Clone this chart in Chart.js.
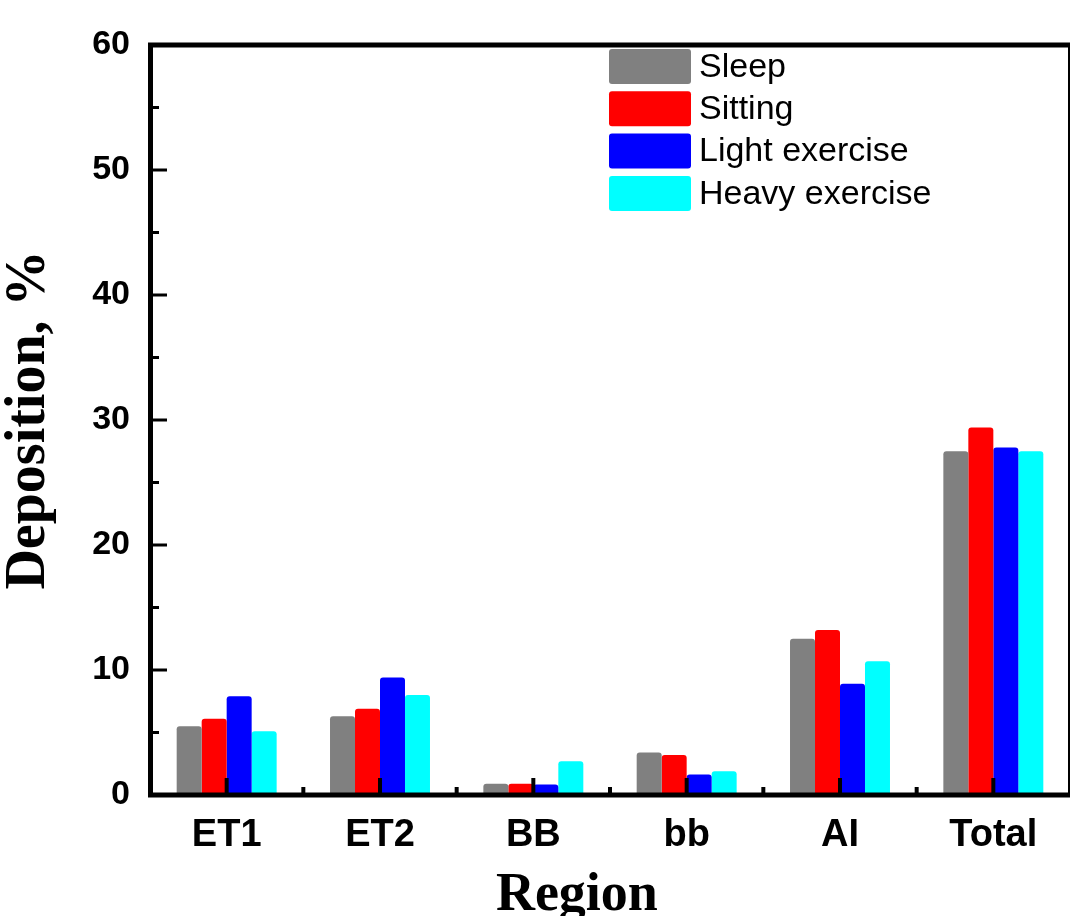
<!DOCTYPE html>
<html><head><meta charset="utf-8">
<script src="https://cdn.jsdelivr.net/npm/chart.js@4"></script>
<style>html,body{margin:0;padding:0;background:#fff;overflow:hidden}</style>
</head><body>
<canvas id="c" width="1070" height="916" style="display:block"></canvas>
<script>
const regions = ['ET1', 'ET2', 'BB', 'bb', 'AI', 'Total'];
const seriesNames = ['Sleep', 'Sitting', 'Light exercise', 'Heavy exercise'];
const sleep = [5.5, 6.3, 0.9, 3.4, 12.5, 27.5];
const sitting = [6.1, 6.9, 0.9, 3.2, 13.2, 29.4];
const lightExercise = [7.9, 9.4, 0.85, 1.65, 8.9, 27.8];
const heavyExercise = [5.1, 8.0, 2.7, 1.9, 10.7, 27.5];
const seriesColors = ['#808080', '#ff0000', '#0000ff', '#00ffff'];
const yMin = 0, yMax = 60, yStep = 10;
const xTitle = 'Region';
const yTitle = 'Deposition, %';

const seriesValues = [sleep, sitting, lightExercise, heavyExercise];

function line(ctx, x1, y1, x2, y2) {
  ctx.beginPath(); ctx.moveTo(x1, y1); ctx.lineTo(x2, y2); ctx.stroke();
}

const framePlugin = {
  id: 'frame',
  afterDatasetsDraw(chart) {
    const { ctx, chartArea: a, scales: { x, y } } = chart;
    ctx.save();
    ctx.strokeStyle = '#000';
    ctx.lineCap = 'butt';
    ctx.lineWidth = 3;
    y.ticks.forEach(t => {
      const py = y.getPixelForValue(t.value);
      line(ctx, a.left, py, a.left + 17, py);
      const mv = t.value + yStep / 2;
      if (mv < yMax) {
        const pm = y.getPixelForValue(mv);
        line(ctx, a.left, pm, a.left + 9, pm);
      }
    });
    ctx.lineWidth = 4;
    for (let i = 0; i < regions.length; i++) {
      const px = x.getPixelForValue(i);
      line(ctx, px, a.bottom, px, a.bottom - 17);
      const pb = x.getPixelForValue(i + 0.5);
      line(ctx, pb, a.bottom, pb, a.bottom - 8);
    }
    ctx.lineWidth = 5;
    ctx.lineJoin = 'miter';
    ctx.strokeRect(a.left + 0.5, a.top, a.right - a.left, a.bottom - a.top);
    ctx.restore();
  },
  afterDraw(chart) {
    const { ctx, chartArea: a } = chart;
    ctx.save();
    const lx = a.left + 459, ly = a.top + 4, row = 42.3, bw = 82, bh = 35;
    ctx.font = '34px "Liberation Sans", Arial, sans-serif';
    ctx.textBaseline = 'middle';
    ctx.textAlign = 'left';
    chart.data.datasets.forEach((ds, i) => {
      const by = ly + i * row;
      ctx.fillStyle = ds.backgroundColor;
      ctx.beginPath();
      if (ctx.roundRect) ctx.roundRect(lx, by, bw, bh, 3); else ctx.rect(lx, by, bw, bh);
      ctx.fill();
      ctx.fillStyle = '#000';
      ctx.fillText(ds.label, lx + bw + 8, by + bh / 2 + 1);
    });
    ctx.font = 'bold 54px "Liberation Serif", "Times New Roman", serif';
    ctx.textAlign = 'center';
    ctx.textBaseline = 'alphabetic';
    ctx.fillStyle = '#000';
    ctx.fillText(xTitle, a.left + (a.right - a.left) * 0.464, 910);
    ctx.restore();
  }
};

new Chart(document.getElementById('c'), {
  type: 'bar',
  data: {
    labels: regions,
    datasets: seriesNames.map((name, i) => ({
      label: name,
      data: seriesValues[i],
      backgroundColor: seriesColors[i],
      borderWidth: 0,
      borderRadius: { topLeft: 3, topRight: 3, bottomLeft: 0, bottomRight: 0 },
      borderSkipped: 'start',
      categoryPercentage: 0.652,
      barPercentage: 1.0
    }))
  },
  options: {
    responsive: false,
    devicePixelRatio: 1,
    animation: false,
    layout: { padding: { top: 45, right: 0, bottom: 0, left: 0 } },
    plugins: {
      legend: { display: false },
      tooltip: { enabled: false },
      title: { display: false }
    },
    scales: {
      x: {
        offset: true,
        grid: { display: false, drawTicks: false },
        border: { display: false },
        ticks: {
          color: '#000',
          padding: 18,
          maxRotation: 0,
          font: { family: '"Liberation Sans", Arial, sans-serif', size: 38, weight: 'bold' }
        },
        afterFit(scale) { scale.height = 121; }
      },
      y: {
        min: yMin,
        max: yMax,
        grid: { display: false, drawTicks: false },
        border: { display: false },
        ticks: {
          stepSize: yStep,
          color: '#000',
          padding: 20,
          font: { family: '"Liberation Sans", Arial, sans-serif', size: 34, weight: 'bold' }
        },
        title: {
          display: true,
          text: yTitle,
          color: '#000',
          padding: { top: 2, bottom: 0 },
          font: { family: '"Liberation Serif", "Times New Roman", serif', size: 56, weight: 'bold', lineHeight: 1 }
        },
        afterFit(scale) { scale.width = 150; }
      }
    }
  },
  plugins: [framePlugin]
});
</script>
</body></html>
